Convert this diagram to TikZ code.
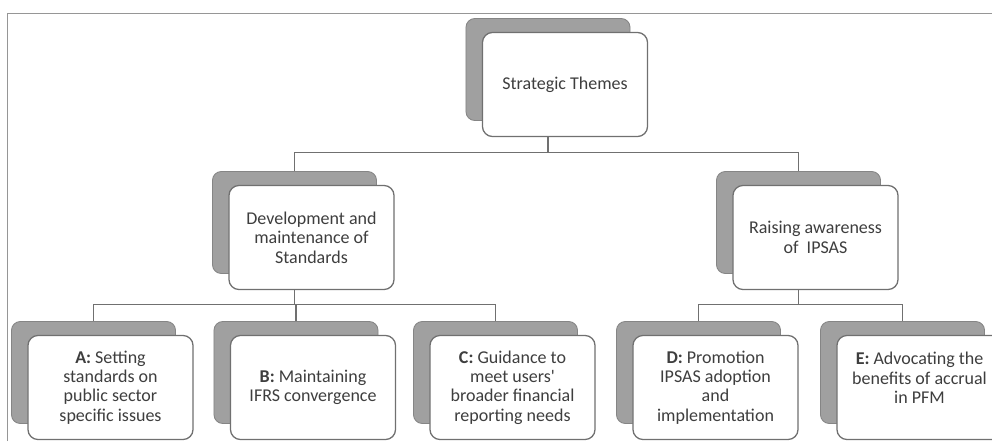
\documentclass[tikz,border=0pt]{standalone}
\usepackage{fontspec}
\setmainfont{Carlito}
\usetikzlibrary{positioning,calc}

\definecolor{shadowfill}{RGB}{160,160,160}
\definecolor{boxline}{RGB}{112,112,112}
\definecolor{textgray}{RGB}{62,62,62}
\definecolor{framegray}{RGB}{150,150,150}

\tikzset{
  shadowbox/.style={draw=boxline!85, fill=shadowfill, line width=0.6pt, rounded corners=0.22cm,
    minimum width=4.1cm, minimum height=2.55cm, inner sep=0pt},
  themebox/.style={draw=boxline, fill=white, line width=0.9pt, rounded corners=0.25cm,
    minimum width=4.125cm, minimum height=2.6cm, inner sep=2pt, align=center,
    text=textgray, font=\fontsize{12.8}{13.8}\selectfont},
  link/.style={draw=boxline, line width=0.9pt}
}

\begin{document}
\begin{tikzpicture}[x=0.025cm, y=-0.025cm]
    \useasboundingbox (0,0) rectangle (992,441);

    % Frame
    \draw[framegray, line width=0.7pt] (7,441) -- (7,13) -- (992,13);

    % Top level
    \node[shadowbox] (sh-themes) at (548,69.5) {};
    \node[themebox] (themes) at (565,84.5) {Strategic Themes};

    % Second level
    \node[shadowbox] (sh-dev) at (294.5,222.5) {};
    \node[themebox] (dev) at (311.5,237.5) {Development and\\ maintenance of\\ Standards};
    \node[shadowbox] (sh-aware) at (798.5,222.5) {};
    \node[themebox] (aware) at (815.5,237.5) {Raising awareness\\ of\ \ IPSAS};

    % Third level
    \node[shadowbox] (sh-a) at (93.5,372.5) {};
    \node[themebox] (a) at (110.5,387.5) {\textbf{A:} Setting\\ standards on\\ public sector\\ specific issues};
    \node[shadowbox] (sh-b) at (296,372.5) {};
    \node[themebox] (b) at (313,387.5) {\textbf{B:} Maintaining\\ IFRS convergence};
    \node[shadowbox] (sh-c) at (495.5,372.5) {};
    \node[themebox] (c) at (512.5,387.5) {\textbf{C:} Guidance to\\ meet users\textquotesingle\\ broader financial\\ reporting needs};
    \node[shadowbox] (sh-d) at (698.5,372.5) {};
    \node[themebox] (d) at (715.5,387.5) {\textbf{D:} Promotion\\ IPSAS adoption\\ and\\ implementation};
    \node[shadowbox] (sh-e) at (902.5,372.5) {};
    \node[themebox] (e) at (919.5,387.5) {\textbf{E:} Advocating the\\ benefits of accrual\\ in PFM\\ \mbox{}};

    % Connectors
    \foreach \n in {dev,aware}
        \draw[link] (sh-themes.center |- themes.south) -- ++(0,15) -| (sh-\n.north);
    \foreach \n in {a,b,c}
        \draw[link] (sh-dev.center |- dev.south) -- ++(0,14) -| (sh-\n.north);
    \foreach \n in {d,e}
        \draw[link] (sh-aware.center |- aware.south) -- ++(0,14) -| (sh-\n.north);
\end{tikzpicture}
\end{document}
